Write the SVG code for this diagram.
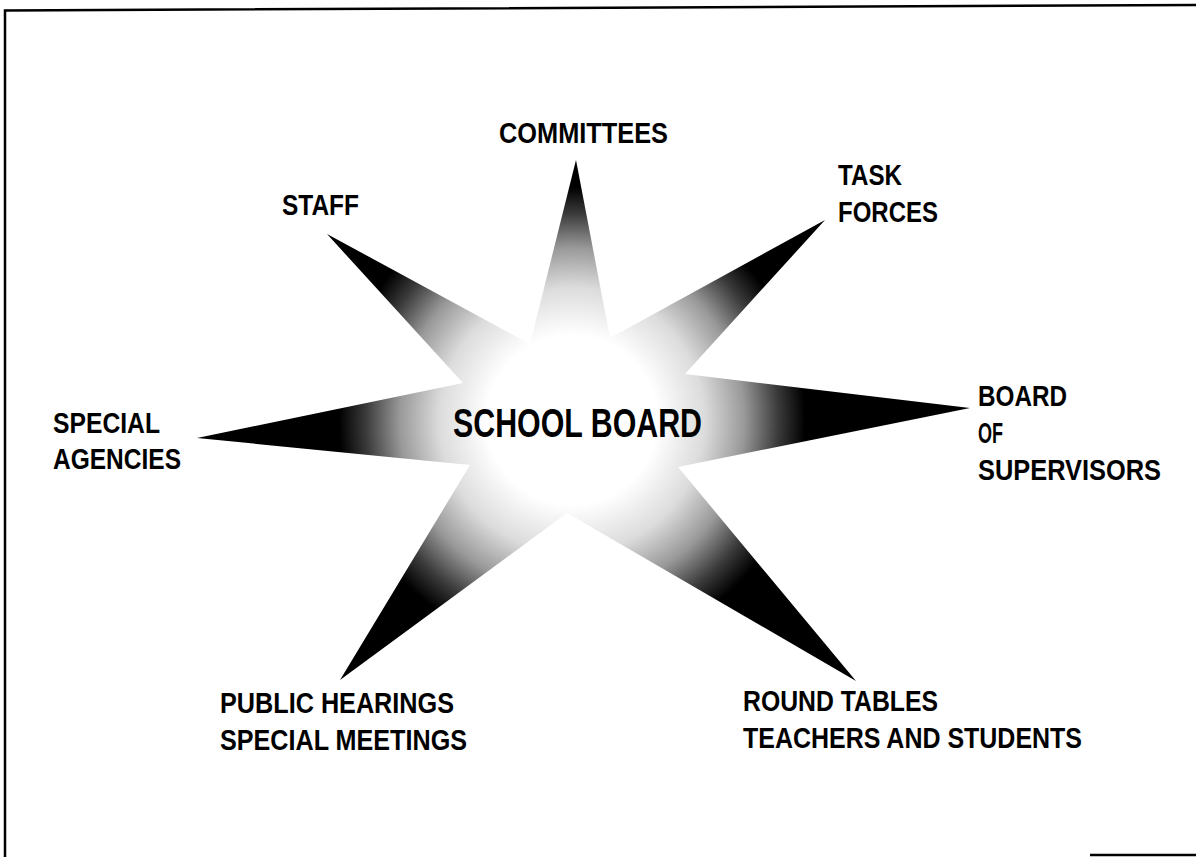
<svg xmlns="http://www.w3.org/2000/svg" width="1196" height="857" viewBox="0 0 1196 857">
  <style>
    .lbl { font-family: "Liberation Sans", Arial, sans-serif; font-size: 29px; font-weight: bold; fill: #000; }
    .title { font-family: "Liberation Sans", Arial, sans-serif; font-size: 40px; font-weight: bold; fill: #000; }
    .frame { fill: none; stroke: #000; stroke-width: 2.5; }
  </style>
  <defs>
    <radialGradient id="starGrad" gradientUnits="userSpaceOnUse" cx="572" cy="420" r="265">
      <stop offset="0" stop-color="#fff"/>
      <stop offset="0.32" stop-color="#fff"/>
      <stop offset="0.5" stop-color="#dcdcdc"/>
      <stop offset="0.65" stop-color="#999"/>
      <stop offset="0.78" stop-color="#3a3a3a"/>
      <stop offset="0.88" stop-color="#000"/>
      <stop offset="1" stop-color="#000"/>
    </radialGradient>
  </defs>
  <rect width="1196" height="857" fill="#fff"/>
  <g id="frame">
    <polyline class="frame" points="1196,5 5,10.5 5,857"/>
    <line x1="1090" y1="855" x2="1196" y2="855" stroke="#000" stroke-width="2.5"/>
  </g>
  <g id="star">
    <polygon fill="url(#starGrad)" points="576,160 610,338 825,220 685,374 970,408 678,467 856,681 567,513 340,680 470,465 197,438 463,383 327,234 530,344"/>
  </g>
  <g id="school-board">
    <text class="title" x="453" y="437" textLength="249" lengthAdjust="spacingAndGlyphs">SCHOOL BOARD</text>
  </g>
  <g id="committees">
    <text class="lbl" x="499" y="143" textLength="169" lengthAdjust="spacingAndGlyphs">COMMITTEES</text>
  </g>
  <g id="staff">
    <text class="lbl" x="282" y="215" textLength="77" lengthAdjust="spacingAndGlyphs">STAFF</text>
  </g>
  <g id="task-forces">
    <text class="lbl" x="838" y="185" textLength="64" lengthAdjust="spacingAndGlyphs">TASK</text>
    <text class="lbl" x="838" y="222" textLength="100" lengthAdjust="spacingAndGlyphs">FORCES</text>
  </g>
  <g id="board-of-supervisors">
    <text class="lbl" x="978" y="406" textLength="89" lengthAdjust="spacingAndGlyphs">BOARD</text>
    <text class="lbl" x="978" y="443" textLength="25" lengthAdjust="spacingAndGlyphs">OF</text>
    <text class="lbl" x="978" y="480" textLength="183" lengthAdjust="spacingAndGlyphs">SUPERVISORS</text>
  </g>
  <g id="special-agencies">
    <text class="lbl" x="53" y="433" textLength="107" lengthAdjust="spacingAndGlyphs">SPECIAL</text>
    <text class="lbl" x="53" y="469" textLength="128" lengthAdjust="spacingAndGlyphs">AGENCIES</text>
  </g>
  <g id="public-hearings">
    <text class="lbl" x="220" y="713" textLength="234" lengthAdjust="spacingAndGlyphs">PUBLIC HEARINGS</text>
    <text class="lbl" x="220" y="750" textLength="247" lengthAdjust="spacingAndGlyphs">SPECIAL MEETINGS</text>
  </g>
  <g id="round-tables">
    <text class="lbl" x="743" y="711" textLength="195" lengthAdjust="spacingAndGlyphs">ROUND TABLES</text>
    <text class="lbl" x="743" y="748" textLength="339" lengthAdjust="spacingAndGlyphs">TEACHERS AND STUDENTS</text>
  </g>
  <g id="connectors"/>
</svg>
